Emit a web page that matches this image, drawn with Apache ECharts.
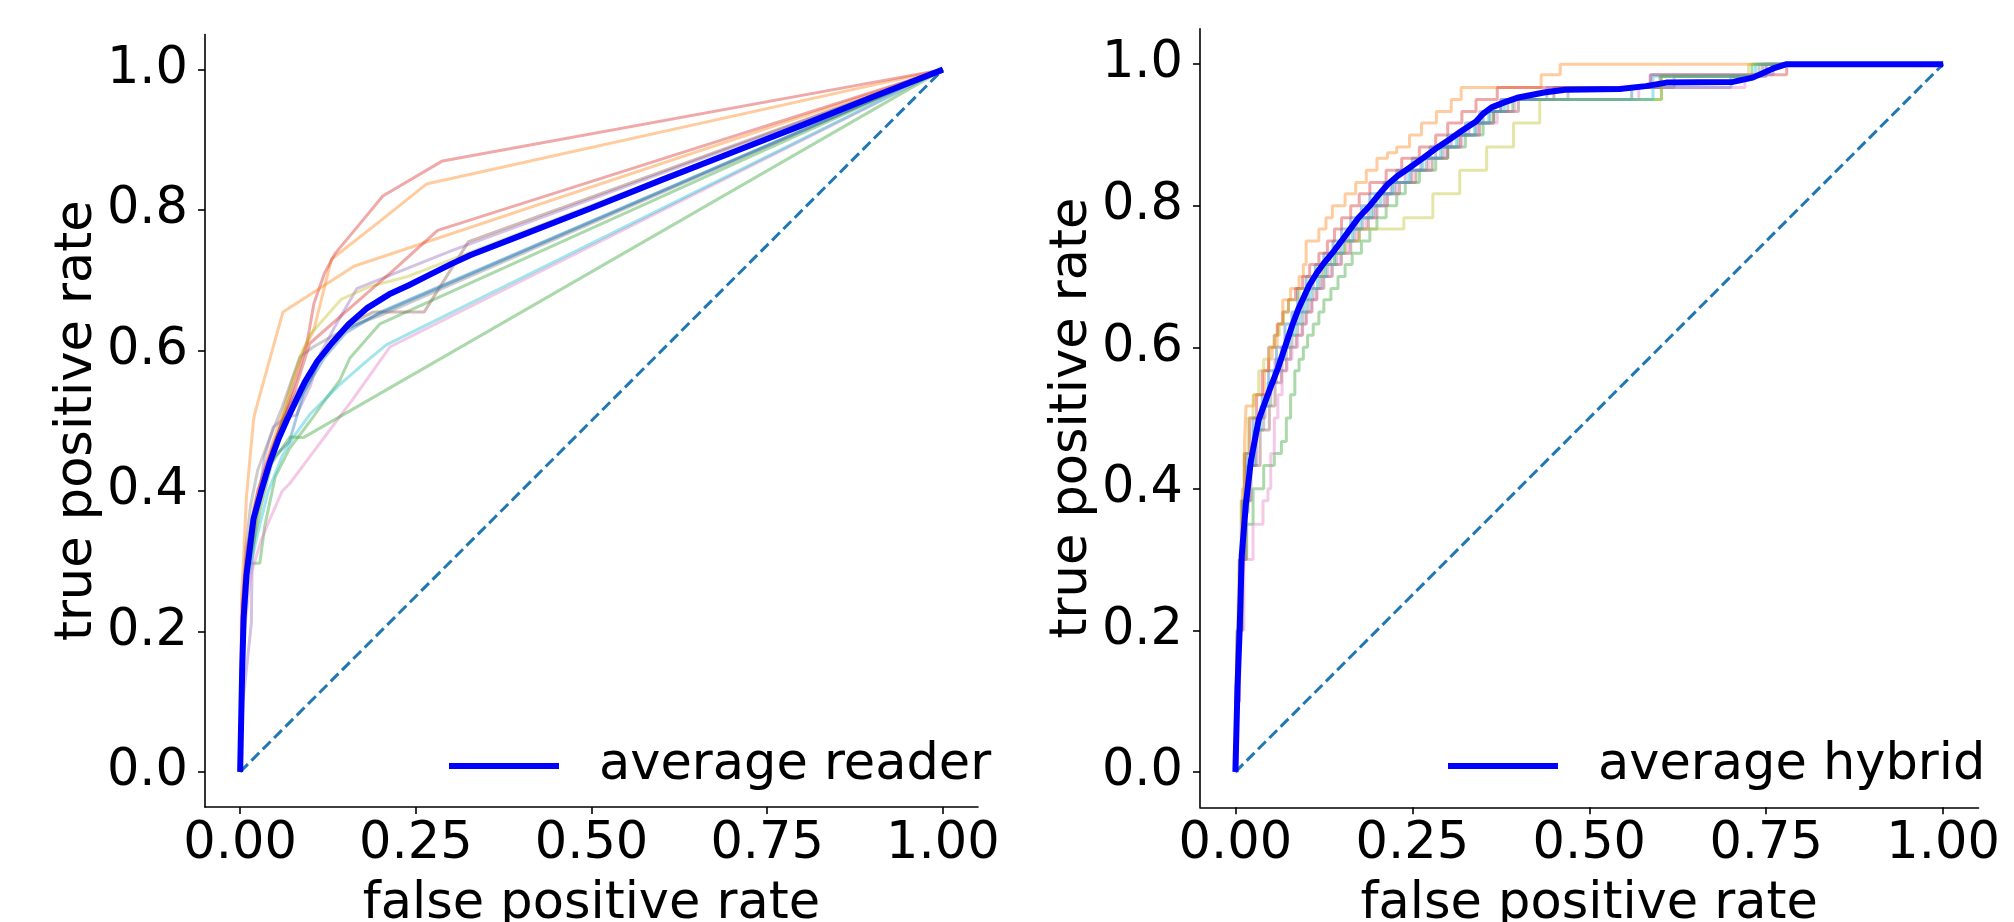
<!DOCTYPE html>
<html><head><meta charset="utf-8">
<script src="https://cdn.jsdelivr.net/npm/echarts@6/dist/echarts.min.js"></script>
<style>html,body{margin:0;padding:0;background:#fff}#chart{width:2014px;height:922px}</style>
</head><body><div id="chart"></div>
<script>
// ---- tick labels ----
const xTicks = [0, 0.25, 0.5, 0.75, 1.0];
const xTickLabels = ['0.00', '0.25', '0.50', '0.75', '1.00'];
const yTicks = [0, 0.2, 0.4, 0.6, 0.8, 1.0];
const yTickLabels = ['0.0', '0.2', '0.4', '0.6', '0.8', '1.0'];
const xAxisTitle = 'false positive rate';
const yAxisTitle = 'true positive rate';
const legendReader = 'average reader';
const legendHybrid = 'average hybrid';
const chance = [[0, 0], [1, 1]];

// ---- left panel: individual readers (fpr, tpr) ----
const reader01 = [[0,0],[0.004,0.18],[0.009,0.28],[0.02,0.36],[0.04,0.44],[0.06,0.49],[0.09,0.54],[0.12,0.59],[0.15,0.625],[0.2,0.655],[1,1]];
const reader02 = [[0,0],[0.003,0.2],[0.008,0.3],[0.02,0.38],[0.04,0.45],[0.06,0.51],[0.075,0.56],[0.09,0.6],[0.105,0.63],[0.13,0.73],[0.2,0.785],[0.265,0.837],[1,1]];
const reader03 = [[0,0],[0.005,0.22],[0.012,0.297],[0.028,0.297],[0.035,0.35],[0.05,0.42],[0.07,0.46],[0.1,0.5],[0.125,0.535],[0.142,0.558],[0.156,0.589],[0.199,0.638],[1,1]];
const reader04 = [[0,0],[0.003,0.2],[0.008,0.29],[0.02,0.37],[0.04,0.44],[0.06,0.5],[0.083,0.57],[0.095,0.61],[0.105,0.667],[0.12,0.71],[0.135,0.738],[0.17,0.78],[0.203,0.82],[0.288,0.87],[1,1]];
const reader05 = [[0,0],[0.004,0.1],[0.016,0.212],[0.017,0.3],[0.025,0.38],[0.035,0.45],[0.047,0.491],[0.065,0.505],[0.08,0.508],[0.1,0.55],[0.114,0.595],[0.137,0.638],[0.166,0.688],[0.22,0.71],[0.303,0.743],[1,1]];
const reader06 = [[0,0],[0.004,0.22],[0.01,0.3],[0.02,0.37],[0.04,0.44],[0.06,0.5],[0.08,0.54],[0.1,0.57],[0.13,0.61],[0.16,0.64],[0.19,0.655],[0.262,0.655],[0.325,0.755],[1,1]];
const reader07 = [[0,0],[0.006,0.2],[0.015,0.28],[0.03,0.33],[0.042,0.359],[0.06,0.4],[0.071,0.411],[0.1,0.45],[0.13,0.49],[0.16,0.53],[0.213,0.605],[1,1]];
const reader08 = [[0,0],[0.003,0.22],[0.008,0.32],[0.015,0.38],[0.025,0.43],[0.04,0.47],[0.06,0.52],[0.085,0.591],[0.104,0.605],[0.13,0.62],[0.16,0.635],[0.2,0.65],[1,1]];
const reader09 = [[0,0],[0.004,0.2],[0.01,0.28],[0.025,0.37],[0.045,0.45],[0.065,0.52],[0.085,0.59],[0.099,0.622],[0.144,0.673],[0.184,0.691],[0.237,0.705],[1,1]];
const reader10 = [[0,0],[0.005,0.2],[0.012,0.28],[0.025,0.34],[0.04,0.4],[0.06,0.45],[0.076,0.477],[0.1,0.51],[0.14,0.55],[0.18,0.585],[0.208,0.608],[1,1]];
const reader11 = [[0,0],[0.004,0.2],[0.01,0.3],[0.02,0.36],[0.035,0.42],[0.05,0.45],[0.07,0.47],[0.09,0.539],[0.12,0.6],[0.15,0.63],[0.199,0.653],[1,1]];
const reader12 = [[0,0],[0.002,0.25],[0.0045,0.297],[0.009,0.392],[0.019,0.5],[0.021,0.511],[0.04,0.58],[0.061,0.655],[0.162,0.72],[1,1]];
const reader13 = [[0,0],[0.004,0.2],[0.01,0.28],[0.02,0.33],[0.03,0.38],[0.045,0.44],[0.071,0.477],[0.09,0.476],[1,1]];
const reader14 = [[0,0],[0.003,0.24],[0.01,0.32],[0.025,0.4],[0.045,0.46],[0.065,0.51],[0.08,0.55],[0.099,0.61],[0.15,0.655],[0.218,0.714],[0.281,0.771],[1,1]];
const averageReader = [[0,0],[0.003,0.15],[0.005,0.22],[0.009,0.28],[0.019,0.36],[0.03,0.4],[0.042,0.44],[0.055,0.475],[0.066,0.5],[0.08,0.53],[0.092,0.555],[0.11,0.585],[0.13,0.61],[0.154,0.637],[0.18,0.66],[0.212,0.68],[0.24,0.693],[0.27,0.708],[0.3,0.723],[0.328,0.736],[0.4,0.764],[0.5,0.803],[0.6,0.843],[0.7,0.882],[0.8,0.921],[0.9,0.961],[1,1]];

// ---- right panel: hybrid runs, staircase corners (fpr, tpr) ----
const hybrid01 = [[0,0],[0.001,0.1],[0.003,0.2],[0.006,0.3],[0.01,0.383],[0.016,0.45],[0.025,0.5],[0.038,0.533],[0.047,0.567],[0.058,0.6],[0.07,0.633],[0.08,0.65],[0.088,0.683],[0.1,0.7],[0.113,0.717],[0.125,0.733],[0.138,0.75],[0.15,0.767],[0.163,0.783],[0.178,0.8],[0.19,0.817],[0.21,0.833],[0.228,0.85],[0.25,0.867],[0.275,0.883],[0.3,0.9],[0.325,0.917],[0.35,0.933],[0.375,0.95],[0.56,0.967],[0.7,0.983],[0.75,1],[1,1]];
const hybrid02 = [[0,0],[0.002,0.2],[0.006,0.3],[0.01,0.4],[0.013,0.467],[0.015,0.517],[0.026,0.533],[0.041,0.567],[0.047,0.583],[0.052,0.6],[0.059,0.633],[0.067,0.667],[0.078,0.683],[0.09,0.7],[0.096,0.717],[0.1,0.75],[0.118,0.767],[0.128,0.783],[0.137,0.8],[0.155,0.817],[0.17,0.833],[0.185,0.85],[0.2,0.867],[0.215,0.875],[0.228,0.883],[0.246,0.9],[0.263,0.917],[0.284,0.933],[0.305,0.95],[0.319,0.967],[0.432,0.985],[0.459,1],[1,1]];
const hybrid03 = [[0,0],[0.002,0.1],[0.005,0.2],[0.01,0.3],[0.016,0.35],[0.025,0.4],[0.04,0.433],[0.055,0.45],[0.065,0.467],[0.072,0.5],[0.078,0.533],[0.084,0.567],[0.09,0.583],[0.096,0.6],[0.102,0.617],[0.11,0.633],[0.118,0.65],[0.125,0.667],[0.135,0.683],[0.145,0.7],[0.155,0.717],[0.165,0.733],[0.178,0.75],[0.19,0.767],[0.2,0.783],[0.213,0.8],[0.228,0.817],[0.24,0.833],[0.26,0.85],[0.283,0.867],[0.3,0.883],[0.325,0.9],[0.35,0.917],[0.365,0.933],[0.392,0.95],[0.602,0.983],[0.73,1],[1,1]];
const hybrid04 = [[0,0],[0.001,0.1],[0.003,0.2],[0.006,0.3],[0.009,0.383],[0.013,0.45],[0.02,0.5],[0.03,0.533],[0.038,0.567],[0.047,0.6],[0.055,0.617],[0.06,0.633],[0.067,0.65],[0.075,0.667],[0.085,0.683],[0.095,0.7],[0.105,0.717],[0.118,0.733],[0.13,0.75],[0.14,0.767],[0.15,0.783],[0.163,0.8],[0.175,0.817],[0.19,0.833],[0.213,0.85],[0.235,0.867],[0.26,0.883],[0.283,0.9],[0.3,0.917],[0.32,0.933],[0.34,0.95],[0.37,0.967],[0.587,0.985],[0.779,1],[1,1]];
const hybrid05 = [[0,0],[0.002,0.1],[0.004,0.2],[0.008,0.3],[0.013,0.383],[0.02,0.433],[0.03,0.5],[0.042,0.533],[0.05,0.55],[0.056,0.583],[0.065,0.6],[0.072,0.617],[0.08,0.633],[0.087,0.65],[0.095,0.667],[0.102,0.683],[0.11,0.7],[0.122,0.717],[0.135,0.733],[0.148,0.75],[0.16,0.767],[0.172,0.783],[0.188,0.8],[0.2,0.817],[0.22,0.833],[0.24,0.85],[0.262,0.867],[0.283,0.883],[0.305,0.9],[0.33,0.917],[0.345,0.933],[0.375,0.95],[0.44,0.967],[0.586,0.985],[0.76,1],[1,1]];
const hybrid06 = [[0,0],[0.002,0.1],[0.005,0.2],[0.009,0.3],[0.015,0.383],[0.022,0.433],[0.035,0.483],[0.048,0.517],[0.056,0.55],[0.065,0.567],[0.072,0.583],[0.078,0.6],[0.086,0.617],[0.095,0.633],[0.1,0.65],[0.108,0.667],[0.115,0.683],[0.125,0.7],[0.137,0.717],[0.15,0.733],[0.163,0.75],[0.175,0.767],[0.188,0.783],[0.2,0.8],[0.215,0.817],[0.232,0.833],[0.255,0.85],[0.278,0.867],[0.3,0.883],[0.318,0.9],[0.345,0.917],[0.365,0.933],[0.4,0.95],[0.45,0.967],[0.6,0.983],[0.745,1],[1,1]];
const hybrid07 = [[0,0],[0.003,0.1],[0.006,0.2],[0.012,0.3],[0.025,0.35],[0.039,0.383],[0.046,0.4],[0.05,0.45],[0.055,0.5],[0.06,0.533],[0.066,0.567],[0.073,0.583],[0.08,0.6],[0.088,0.617],[0.094,0.633],[0.1,0.65],[0.108,0.667],[0.115,0.683],[0.123,0.7],[0.135,0.717],[0.148,0.733],[0.16,0.75],[0.172,0.767],[0.185,0.783],[0.198,0.8],[0.213,0.817],[0.228,0.833],[0.25,0.85],[0.273,0.867],[0.297,0.883],[0.32,0.9],[0.343,0.917],[0.37,0.933],[0.395,0.95],[0.57,0.967],[0.72,0.983],[0.75,1],[1,1]];
const hybrid08 = [[0,0],[0.001,0.1],[0.004,0.2],[0.008,0.3],[0.012,0.367],[0.018,0.433],[0.028,0.483],[0.04,0.517],[0.05,0.55],[0.058,0.567],[0.066,0.583],[0.072,0.6],[0.08,0.617],[0.088,0.633],[0.095,0.65],[0.103,0.667],[0.11,0.683],[0.12,0.7],[0.13,0.717],[0.143,0.733],[0.155,0.75],[0.168,0.767],[0.18,0.783],[0.195,0.8],[0.21,0.817],[0.225,0.833],[0.248,0.85],[0.27,0.867],[0.293,0.883],[0.315,0.9],[0.34,0.917],[0.36,0.933],[0.385,0.95],[0.47,0.967],[0.62,0.983],[0.74,1],[1,1]];
const hybrid09 = [[0,0],[0.001,0.1],[0.003,0.2],[0.005,0.3],[0.008,0.383],[0.012,0.45],[0.018,0.5],[0.025,0.533],[0.033,0.567],[0.04,0.583],[0.048,0.6],[0.055,0.617],[0.062,0.633],[0.068,0.65],[0.075,0.667],[0.09,0.683],[0.105,0.7],[0.125,0.717],[0.14,0.733],[0.155,0.75],[0.175,0.767],[0.2,0.767],[0.238,0.783],[0.279,0.817],[0.317,0.85],[0.355,0.883],[0.393,0.917],[0.43,0.95],[0.602,0.983],[0.725,1],[1,1]];
const hybrid10 = [[0,0],[0.001,0.1],[0.003,0.2],[0.007,0.3],[0.011,0.383],[0.017,0.433],[0.026,0.483],[0.036,0.517],[0.046,0.55],[0.054,0.567],[0.062,0.583],[0.069,0.6],[0.076,0.617],[0.084,0.633],[0.091,0.65],[0.099,0.667],[0.106,0.683],[0.116,0.7],[0.127,0.717],[0.14,0.733],[0.152,0.75],[0.165,0.767],[0.177,0.783],[0.192,0.8],[0.205,0.817],[0.222,0.833],[0.245,0.85],[0.265,0.867],[0.29,0.883],[0.312,0.9],[0.338,0.917],[0.358,0.933],[0.38,0.95],[0.59,0.983],[0.735,1],[1,1]];
const averageHybrid = [[0,0],[0.003,0.12],[0.006,0.2],[0.009,0.306],[0.015,0.38],[0.022,0.44],[0.033,0.498],[0.048,0.539],[0.06,0.57],[0.07,0.6],[0.08,0.63],[0.089,0.654],[0.104,0.687],[0.115,0.705],[0.126,0.72],[0.14,0.737],[0.152,0.753],[0.163,0.768],[0.174,0.783],[0.19,0.8],[0.203,0.816],[0.215,0.83],[0.229,0.842],[0.245,0.853],[0.266,0.868],[0.285,0.882],[0.303,0.894],[0.32,0.906],[0.34,0.919],[0.35,0.93],[0.362,0.939],[0.38,0.946],[0.4,0.953],[0.436,0.96],[0.466,0.964],[0.543,0.965],[0.58,0.969],[0.609,0.974],[0.703,0.975],[0.731,0.981],[0.76,0.994],[0.779,1],[1,1]];

const readers = [reader01, reader02, reader03, reader04, reader05, reader06, reader07, reader08, reader09, reader10, reader11, reader12, reader13, reader14];
const hybrids = [hybrid01, hybrid02, hybrid03, hybrid04, hybrid05, hybrid06, hybrid07, hybrid08, hybrid09, hybrid10];

// ---- styles ----
const tab10 = ['#1f77b4','#ff7f0e','#2ca02c','#d62728','#9467bd','#8c564b','#e377c2','#7f7f7f','#bcbd22','#17becf'];
const FONT = 'DejaVu Sans';
const FS = 51;
const AVG_W = 6;

function tickLabel(ticks, labels) {
  return function (v) {
    const i = ticks.findIndex(t => Math.abs(t - v) < 1e-9);
    return i >= 0 ? labels[i] : '';
  };
}
function xAxisCfg(gi) {
  return {
    type: 'value', gridIndex: gi, min: -0.05, max: 1.05,
    name: xAxisTitle, nameLocation: 'middle', nameGap: 72,
    nameTextStyle: { fontSize: FS, fontFamily: FONT, color: '#000' },
    axisLine: { show: true, onZero: false, lineStyle: { color: '#000', width: 1.6 } },
    axisTick: { show: true, length: 7, customValues: xTicks, lineStyle: { color: '#000', width: 1.6 } },
    axisLabel: { show: true, customValues: xTicks, formatter: tickLabel(xTicks, xTickLabels), fontSize: FS, fontFamily: FONT, color: '#000', margin: 12 },
    splitLine: { show: false }
  };
}
function yAxisCfg(gi) {
  return {
    type: 'value', gridIndex: gi, min: -0.05, max: 1.05,
    name: yAxisTitle, nameLocation: 'middle', nameGap: 100, nameRotate: 90,
    nameTextStyle: { fontSize: FS, fontFamily: FONT, color: '#000' },
    axisLine: { show: true, onZero: false, lineStyle: { color: '#000', width: 1.6 } },
    axisTick: { show: true, length: 7, customValues: yTicks, lineStyle: { color: '#000', width: 1.6 } },
    axisLabel: { show: true, customValues: yTicks, formatter: tickLabel(yTicks, yTickLabels), fontSize: FS, fontFamily: FONT, color: '#000', margin: 17 },
    splitLine: { show: false }
  };
}
function line(data, gi, color, width, opacity, extra) {
  return Object.assign({
    type: 'line', xAxisIndex: gi, yAxisIndex: gi, data: data,
    symbol: 'none', showSymbol: false, silent: true, smooth: false,
    lineStyle: { color: color, width: width, opacity: opacity },
    itemStyle: { color: color },
    emphasis: { disabled: true }
  }, extra || {});
}

const series = [];
readers.forEach((d, i) => series.push(line(d, 0, tab10[i % 10], 3, 0.4)));
series.push(line(chance, 0, '#1f77b4', 3, 1, { lineStyle: { color: '#1f77b4', width: 3, type: [11, 5] } }));
series.push(line(averageReader, 0, '#0000ff', AVG_W, 1, { name: legendReader, z: 5 }));
hybrids.forEach((d, i) => series.push(line(d, 1, tab10[i % 10], 3, 0.4, { step: 'end' })));
series.push(line(chance, 1, '#1f77b4', 3, 1, { lineStyle: { color: '#1f77b4', width: 3, type: [11, 5] } }));
series.push(line(averageHybrid, 1, '#0000ff', AVG_W, 1, { name: legendHybrid, z: 5 }));

function legendCfg(name, left) {
  return {
    data: [name], left: left, top: 740.5, padding: 0,
    icon: 'rect', itemWidth: 110, itemHeight: AVG_W, selectedMode: false,
    itemStyle: { color: '#0000ff', borderWidth: 0 },
    textStyle: { fontSize: FS, fontFamily: FONT, color: '#000', padding: [0, 0, 0, 35] }
  };
}

const option = {
  animation: false,
  backgroundColor: '#fff',
  textStyle: { fontFamily: FONT },
  grid: [
    { left: 205, top: 34.5, width: 773, height: 772.5, outerBoundsMode: 'none', containLabel: false },
    { left: 1200, top: 28.8, width: 778.5, height: 778.5, outerBoundsMode: 'none', containLabel: false }
  ],
  xAxis: [xAxisCfg(0), xAxisCfg(1)],
  yAxis: [yAxisCfg(0), yAxisCfg(1)],
  legend: [legendCfg(legendReader, 449), legendCfg(legendHybrid, 1448)],
  series: series
};
const chart = echarts.init(document.getElementById('chart'), null, { renderer: 'canvas' });
chart.setOption(option);
</script>
</body></html>
